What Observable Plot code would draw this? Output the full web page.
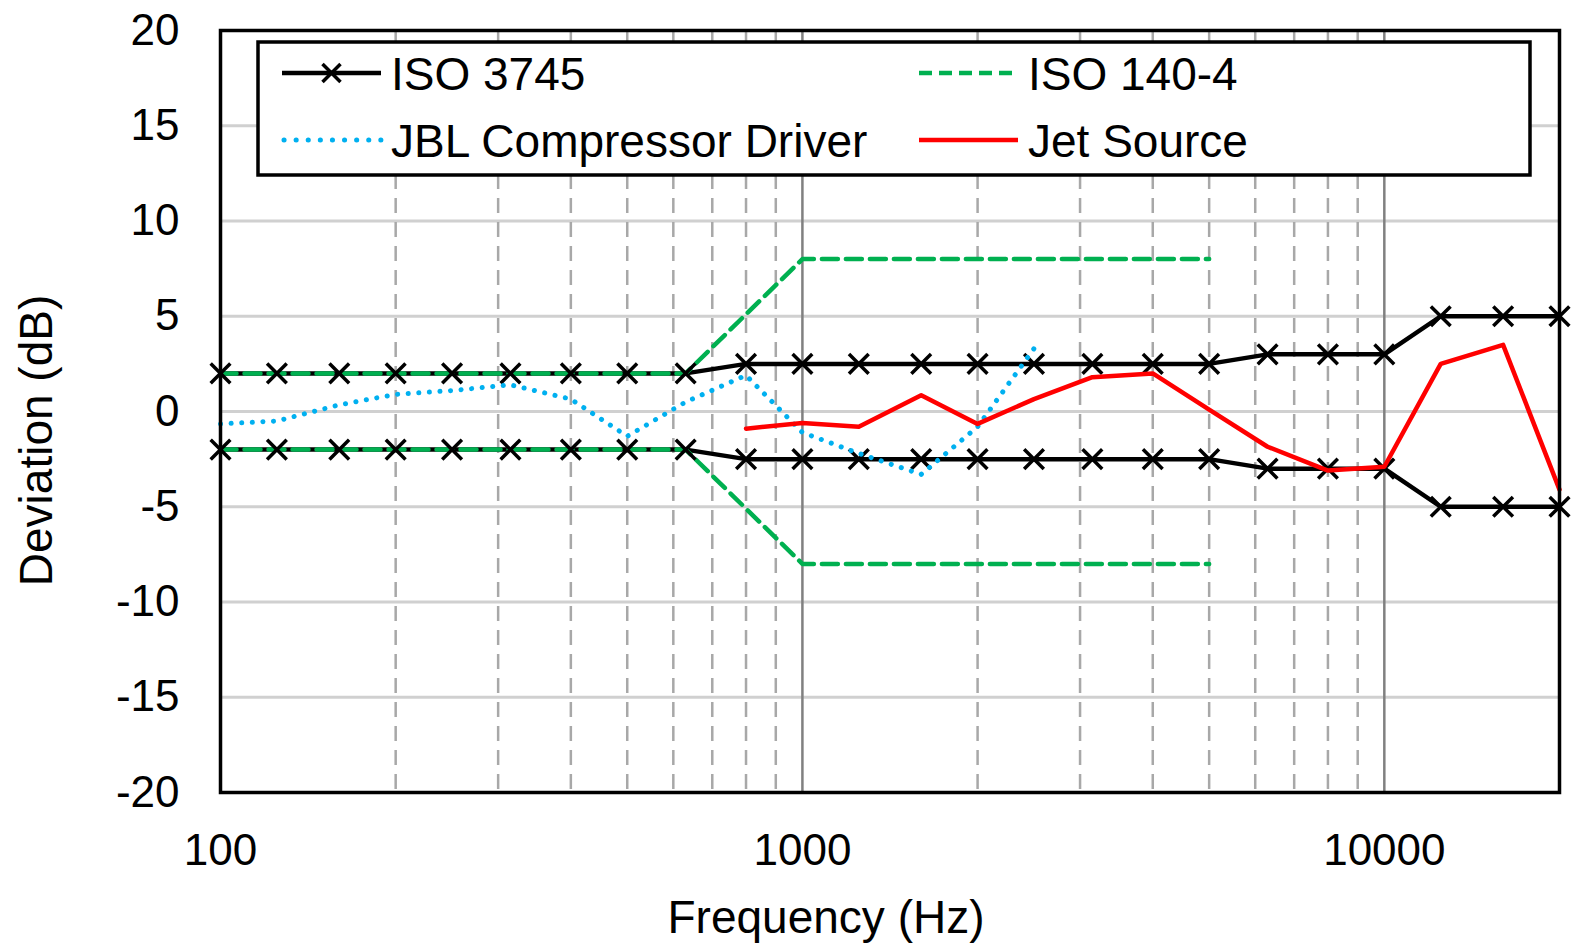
<!DOCTYPE html>
<html>
<head>
<meta charset="utf-8">
<script src="https://cdn.jsdelivr.net/npm/d3@7"></script>
<script src="https://cdn.jsdelivr.net/npm/@observablehq/plot@0.6"></script>
<style>
  html, body { margin: 0; padding: 0; background: #fff; }
  #wrap { position: relative; width: 1575px; height: 943px; overflow: hidden; }
  #legend { position: absolute; left: 0; top: 0; pointer-events: none; }
</style>
</head>
<body>
<div id="wrap"></div>
<script>
// ---------- data ----------
const freqs = [100, 125, 160, 200, 250, 315, 400, 500, 630, 800, 1000, 1250, 1600, 2000, 2500, 3150, 4000, 5000, 6300, 8000, 10000, 12500, 16000, 20000];
const iso3745Upper = [2, 2, 2, 2, 2, 2, 2, 2, 2, 2.5, 2.5, 2.5, 2.5, 2.5, 2.5, 2.5, 2.5, 2.5, 3, 3, 3, 5, 5, 5];
const iso3745Lower = [-2, -2, -2, -2, -2, -2, -2, -2, -2, -2.5, -2.5, -2.5, -2.5, -2.5, -2.5, -2.5, -2.5, -2.5, -3, -3, -3, -5, -5, -5];

const iso1404Freqs = [100, 125, 160, 200, 250, 315, 400, 500, 630, 1000, 1250, 1600, 2000, 2500, 3150, 4000, 5000];
const iso1404Upper = [2, 2, 2, 2, 2, 2, 2, 2, 2, 8, 8, 8, 8, 8, 8, 8, 8];
const iso1404Lower = [-2, -2, -2, -2, -2, -2, -2, -2, -2, -8, -8, -8, -8, -8, -8, -8, -8];

const jblFreqs = [100, 125, 160, 200, 250, 315, 400, 500, 630, 800, 1000, 1250, 1600, 2000, 2500];
const jblValues = [-0.65, -0.5, 0.35, 0.9, 1.1, 1.4, 0.65, -1.3, 0.5, 1.9, -1.1, -2.2, -3.3, -0.8, 3.3];

const jetFreqs = [800, 1000, 1250, 1600, 2000, 2500, 3150, 4000, 5000, 6300, 8000, 10000, 12500, 16000, 20000];
const jetValues = [-0.9, -0.6, -0.8, 0.85, -0.65, 0.65, 1.8, 2.0, 0.1, -1.85, -3.1, -2.9, 2.5, 3.5, -4.1];

const yTicks = [-20, -15, -10, -5, 0, 5, 10, 15, 20];
const yGrid = [-15, -10, -5, 0, 5, 10, 15];
const xTicks = [100, 1000, 10000];
const xMajorGrid = [1000, 10000];
const xMinorGrid = [200, 300, 400, 500, 600, 700, 800, 900, 2000, 3000, 4000, 5000, 6000, 7000, 8000, 9000];

const legendItems = [
  {label: "ISO 3745", kind: "cross"},
  {label: "ISO 140-4", kind: "dash"},
  {label: "JBL Compressor Driver", kind: "dot"},
  {label: "Jet Source", kind: "solid"}
];

// ---------- build tables ----------
const zip = (xs, ys) => xs.map((x, i) => ({f: x, v: ys[i]}));
const isoUp = zip(freqs, iso3745Upper);
const isoLo = zip(freqs, iso3745Lower);
const g140Up = zip(iso1404Freqs, iso1404Upper);
const g140Lo = zip(iso1404Freqs, iso1404Lower);
const jbl = zip(jblFreqs, jblValues);
const jet = zip(jetFreqs, jetValues);

const FONT = "'Liberation Sans', Arial, Helvetica, sans-serif";
const BLACK = "#000";
const GREEN = "#00b050";
const BLUE = "#00b0f0";
const RED = "#ff0000";

const chart = Plot.plot({
  width: 1575,
  height: 943,
  marginLeft: 220,
  marginRight: 16,
  marginTop: 30,
  marginBottom: 151,
  style: {fontFamily: FONT, fontSize: "44px", color: "#000", background: "#fff", overflow: "visible"},
  x: {type: "log", domain: [100, 20000]},
  y: {domain: [-20, 20]},
  marks: [
    Plot.ruleY(yGrid, {stroke: "#d0d0d0", strokeWidth: 2.8}),
    Plot.ruleX(xMinorGrid, {stroke: "#a8a8a8", strokeWidth: 2.5, strokeDasharray: "15,9"}),
    Plot.ruleX(xMajorGrid, {stroke: "#808080", strokeWidth: 2.5}),
    Plot.line(isoUp, {x: "f", y: "v", stroke: BLACK, strokeWidth: 4.5}),
    Plot.line(isoLo, {x: "f", y: "v", stroke: BLACK, strokeWidth: 4.5}),
    Plot.line(g140Up, {x: "f", y: "v", stroke: GREEN, strokeWidth: 4.5, strokeDasharray: "16,8"}),
    Plot.line(g140Lo, {x: "f", y: "v", stroke: GREEN, strokeWidth: 4.5, strokeDasharray: "16,8"}),
    Plot.dot(isoUp, {x: "f", y: "v", symbol: "times", r: 9, stroke: BLACK, strokeWidth: 3.5}),
    Plot.dot(isoLo, {x: "f", y: "v", symbol: "times", r: 9, stroke: BLACK, strokeWidth: 3.5}),
    Plot.line(jbl, {x: "f", y: "v", stroke: BLUE, strokeWidth: 5, strokeDasharray: "0.1,10.5", strokeLinecap: "round"}),
    Plot.line(jet, {x: "f", y: "v", stroke: RED, strokeWidth: 4.5}),
    Plot.frame({stroke: "#000", strokeWidth: 3.5}),
    Plot.axisX({ticks: xTicks, tickSize: 0, tickPadding: 41, tickFormat: d => String(d), label: null, fontSize: 44}),
    Plot.axisY({ticks: yTicks, tickSize: 0, tickPadding: 41, tickFormat: d => String(d), label: null, fontSize: 44}),
    Plot.text(["Frequency (Hz)"], {frameAnchor: "bottom", dx: -64, dy: 126, fontSize: 46, fill: "#000", textAnchor: "middle", lineAnchor: "middle"}),
    Plot.text(["Deviation (dB)"], {frameAnchor: "left", rotate: -90, dx: -183, dy: 29, fontSize: 46, fill: "#000", textAnchor: "middle", lineAnchor: "middle"})
  ]
});

const wrap = document.getElementById("wrap");
wrap.appendChild(chart);

// ---------- legend overlay (inside plot area, as in the reference) ----------
const ns = "http://www.w3.org/2000/svg";
const lg = d3.select(wrap).append("svg")
  .attr("id", "legend")
  .attr("xmlns", ns)
  .attr("width", 1575).attr("height", 943)
  .style("font-family", FONT);

lg.append("rect").attr("x", 258).attr("y", 42).attr("width", 1272).attr("height", 133)
  .attr("fill", "#fff").attr("stroke", "#000").attr("stroke-width", 3.5);

const colX = [282, 919];
const rowY = [73, 140];
legendItems.forEach((it, i) => {
  const x0 = colX[i % 2], y0 = rowY[Math.floor(i / 2)];
  const x1 = x0 + 99;
  const g = lg.append("g");
  if (it.kind === "cross") {
    g.append("line").attr("x1", x0).attr("x2", x1).attr("y1", y0).attr("y2", y0).attr("stroke", BLACK).attr("stroke-width", 4.5);
    const cx = (x0 + x1) / 2, s = 9;
    g.append("path").attr("d", `M${cx - s},${y0 - s}L${cx + s},${y0 + s}M${cx - s},${y0 + s}L${cx + s},${y0 - s}`).attr("stroke", BLACK).attr("stroke-width", 3.5);
  } else if (it.kind === "dash") {
    g.append("line").attr("x1", x0).attr("x2", x1).attr("y1", y0).attr("y2", y0).attr("stroke", GREEN).attr("stroke-width", 4.5).attr("stroke-dasharray", "13,7");
  } else if (it.kind === "dot") {
    g.append("line").attr("x1", x0 + 2).attr("x2", x1).attr("y1", y0).attr("y2", y0).attr("stroke", BLUE).attr("stroke-width", 5).attr("stroke-dasharray", "0.1,12").attr("stroke-linecap", "round");
  } else {
    g.append("line").attr("x1", x0).attr("x2", x1).attr("y1", y0).attr("y2", y0).attr("stroke", RED).attr("stroke-width", 4.5);
  }
  g.append("text").attr("x", x1 + 10).attr("y", y0 + 17).attr("font-size", 46).attr("fill", "#000").text(it.label);
});
</script>
</body>
</html>
